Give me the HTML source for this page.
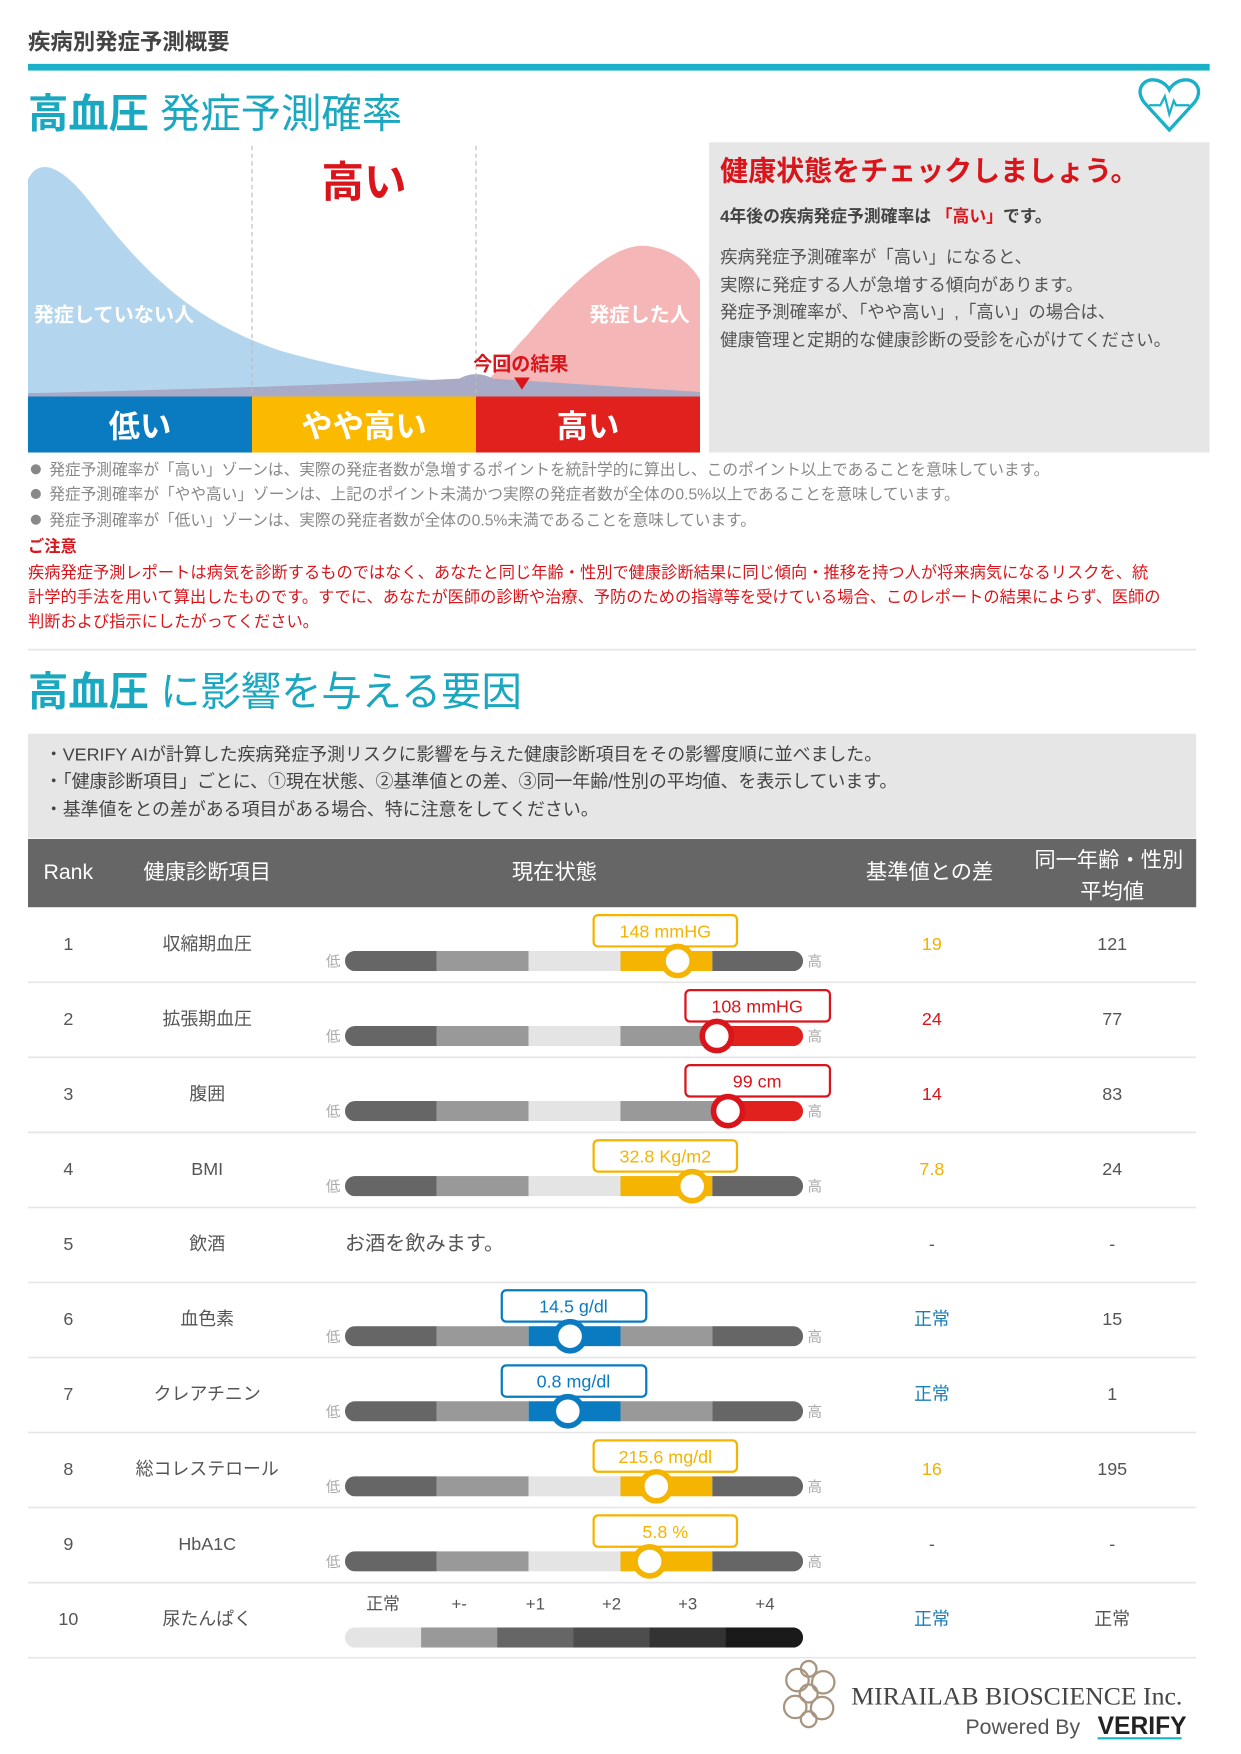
<!DOCTYPE html>
<html><head><meta charset="utf-8"><style>
html,body{margin:0;padding:0;background:#fff;}
#wrap{width:1241px;height:1754px;overflow:hidden;position:relative;}
svg{position:absolute;left:0;top:0;}
text{font-family:"Liberation Sans","Noto Sans CJK JP",sans-serif;}
</style></head><body><div id="wrap">
<svg width="1241" height="1754" viewBox="0 0 1108 1566" xmlns="http://www.w3.org/2000/svg">
<defs>
<clipPath id="bc"><rect x="308" y="0" width="409" height="18" rx="9"/></clipPath>
</defs>
<text x="25" y="44" font-size="20" font-weight="bold" fill="#444">疾病別発症予測概要</text>
<rect x="25" y="57" width="1055" height="6" fill="#1ab0c8"/>
<text x="25" y="114" font-size="36" fill="#1aa7c0"><tspan font-weight="bold">高血圧</tspan> 発症予測確率</text>
<path d="M1044,116 L1022,92 C1012,80 1022,68 1034,72 C1040,74 1043,78 1044,80 C1045,78 1048,74 1054,72 C1066,68 1076,80 1066,92 Z" fill="none" stroke="#1ab0c8" stroke-width="3"/>
<path d="M1026,94 L1036,94 L1040,86 L1044,102 L1048,90 L1050,94 L1062,94" fill="none" stroke="#1ab0c8" stroke-width="2"/>
<path d="M25,354 L25,160 C35,140 55,148 80,180 C120,232 165,285 250,313 C330,336 390,340 440,344 L625,350 L625,354 Z" fill="#b3d6ee"/>
<path d="M418,354 C440,340 450,320 470,300 C520,240 555,215 580,220 C605,224 620,240 625,250 L625,354 Z" fill="#f4b6b6"/>
<path d="M25,354 L25,351 Q250,346 410,338 Q425,330 440,338 L625,350 L625,354 Z" fill="#a9abc6"/>
<line x1="225" y1="130" x2="225" y2="354" stroke="#bbb" stroke-dasharray="4,3"/>
<line x1="425" y1="130" x2="425" y2="354" stroke="#bbb" stroke-dasharray="4,3"/>
<text x="325" y="176" font-size="38" font-weight="bold" fill="#d9151b" text-anchor="middle">高い</text>
<text x="30" y="287" font-size="18" font-weight="bold" fill="#fff">発症していない人</text>
<text x="616" y="287" font-size="18" font-weight="bold" fill="#fff" text-anchor="end">発症した人</text>
<text x="465" y="331" font-size="17" font-weight="bold" fill="#d9151b" text-anchor="middle">今回の結果</text>
<path d="M459,337 L473,337 L466,348 Z" fill="#d9151b"/>
<rect x="25" y="354" width="200" height="50" fill="#0a7bc0"/>
<rect x="225" y="354" width="200" height="50" fill="#fbb900"/>
<rect x="425" y="354" width="200" height="50" fill="#e0211d"/>
<text x="125" y="390" font-size="28" font-weight="bold" fill="#fff" text-anchor="middle">低い</text>
<text x="325" y="390" font-size="28" font-weight="bold" fill="#fff" text-anchor="middle">やや高い</text>
<text x="525" y="390" font-size="28" font-weight="bold" fill="#fff" text-anchor="middle">高い</text>
<rect x="633" y="127" width="447" height="277" fill="#e6e6e6"/>
<text x="643" y="161" font-size="25" font-weight="bold" fill="#d9151b">健康状態をチェックしましょう。</text>
<text x="643" y="198" font-size="15" font-weight="bold" fill="#444">4年後の疾病発症予測確率は <tspan fill="#d9151b">「高い」</tspan>です。</text>
<g font-size="15.5" fill="#555">
<text x="643" y="235">疾病発症予測確率が「高い」になると、</text>
<text x="643" y="260">実際に発症する人が急増する傾向があります。</text>
<text x="643" y="284">発症予測確率が、「やや高い」,「高い」の場合は、</text>
<text x="643" y="309">健康管理と定期的な健康診断の受診を心がけてください。</text>
</g>
<g font-size="14" fill="#888">
<circle cx="32" cy="419" r="4.5" fill="#888"/><text x="44" y="424">発症予測確率が「高い」ゾーンは、実際の発症者数が急増するポイントを統計学的に算出し、このポイント以上であることを意味しています。</text>
<circle cx="32" cy="441" r="4.5" fill="#888"/><text x="44" y="446">発症予測確率が「やや高い」ゾーンは、上記のポイント未満かつ実際の発症者数が全体の0.5%以上であることを意味しています。</text>
<circle cx="32" cy="464" r="4.5" fill="#888"/><text x="44" y="469">発症予測確率が「低い」ゾーンは、実際の発症者数が全体の0.5%未満であることを意味しています。</text>
</g>
<text x="25" y="493" font-size="14.5" font-weight="bold" fill="#d9151b">ご注意</text>
<g font-size="14.5" fill="#d9151b">
<text x="25" y="516">疾病発症予測レポートは病気を診断するものではなく、あなたと同じ年齢・性別で健康診断結果に同じ傾向・推移を持つ人が将来病気になるリスクを、統</text>
<text x="25" y="538">計学的手法を用いて算出したものです。すでに、あなたが医師の診断や治療、予防のための指導等を受けている場合、このレポートの結果によらず、医師の</text>
<text x="25" y="560">判断および指示にしたがってください。</text>
</g>
<line x1="25" y1="580" x2="1068" y2="580" stroke="#e6e6e6" stroke-width="1.5"/>
<text x="25" y="630" font-size="36" fill="#1aa7c0"><tspan font-weight="bold">高血圧</tspan> に影響を与える要因</text>
<rect x="25" y="655" width="1043" height="93" fill="#e6e6e6"/>
<g font-size="16" fill="#444">
<text x="40" y="679">・VERIFY AIが計算した疾病発症予測リスクに影響を与えた健康診断項目をその影響度順に並べました。</text>
<text x="40" y="703">・「健康診断項目」ごとに、①現在状態、②基準値との差、③同一年齢/性別の平均値、を表示しています。</text>
<text x="40" y="728">・基準値をとの差がある項目がある場合、特に注意をしてください。</text>
</g>
<rect x="25" y="749" width="1043" height="61" fill="#666"/>
<g font-size="19" fill="#fff" text-anchor="middle">
<text x="61" y="785">Rank</text><text x="185" y="785">健康診断項目</text><text x="495" y="785">現在状態</text><text x="830" y="785">基準値との差</text>
<text x="990" y="774">同一年齢・性別</text><text x="993" y="802">平均値</text>
</g>
<g stroke="#e6e6e6" stroke-width="1.5">
<line x1="25" y1="877" x2="1068" y2="877"/><line x1="25" y1="944" x2="1068" y2="944"/><line x1="25" y1="1011" x2="1068" y2="1011"/><line x1="25" y1="1078" x2="1068" y2="1078"/><line x1="25" y1="1145" x2="1068" y2="1145"/><line x1="25" y1="1212" x2="1068" y2="1212"/><line x1="25" y1="1279" x2="1068" y2="1279"/><line x1="25" y1="1346" x2="1068" y2="1346"/><line x1="25" y1="1413" x2="1068" y2="1413"/><line x1="25" y1="1480" x2="1068" y2="1480"/>
</g>
<g font-size="16" fill="#555" text-anchor="middle">
<text x="61" y="848">1</text><text x="185" y="848">収縮期血圧</text><text x="832" y="848" fill="#f0b000">19</text><text x="993" y="848">121</text>
<text x="61" y="915">2</text><text x="185" y="915">拡張期血圧</text><text x="832" y="915" fill="#d9151b">24</text><text x="993" y="915">77</text>
<text x="61" y="982">3</text><text x="185" y="982">腹囲</text><text x="832" y="982" fill="#d9151b">14</text><text x="993" y="982">83</text>
<text x="61" y="1049">4</text><text x="185" y="1049">BMI</text><text x="832" y="1049" fill="#f0b000">7.8</text><text x="993" y="1049">24</text>
<text x="61" y="1116">5</text><text x="185" y="1116">飲酒</text><text x="832" y="1116">-</text><text x="993" y="1116">-</text>
<text x="61" y="1183">6</text><text x="185" y="1183">血色素</text><text x="832" y="1183" fill="#1a7fb8">正常</text><text x="993" y="1183">15</text>
<text x="61" y="1250">7</text><text x="185" y="1250">クレアチニン</text><text x="832" y="1250" fill="#1a7fb8">正常</text><text x="993" y="1250">1</text>
<text x="61" y="1317">8</text><text x="185" y="1317">総コレステロール</text><text x="832" y="1317" fill="#f0b000">16</text><text x="993" y="1317">195</text>
<text x="61" y="1384">9</text><text x="185" y="1384">HbA1C</text><text x="832" y="1384">-</text><text x="993" y="1384">-</text>
<text x="61" y="1451">10</text><text x="185" y="1451">尿たんぱく</text><text x="832" y="1451" fill="#1a7fb8">正常</text><text x="993" y="1451">正常</text>
</g>
<text x="308" y="1116" font-size="18" fill="#555">お酒を飲みます。</text>

<g transform="translate(0,849)"><g clip-path="url(#bc)"><rect x="308" width="82" height="18" fill="#666"/><rect x="390" width="82" height="18" fill="#999"/><rect x="472" width="82" height="18" fill="#e4e4e4"/><rect x="554" width="82" height="18" fill="#f5b400"/><rect x="636" width="81" height="18" fill="#666"/></g>
<text x="291" y="14" font-size="13" fill="#aaa">低</text><text x="721" y="14" font-size="13" fill="#aaa">高</text>
<rect x="530" y="-32" width="128" height="28" rx="4" fill="#fff" stroke="#f5b400" stroke-width="2"/><text x="594" y="-12" font-size="16" fill="#f5b400" text-anchor="middle">148 mmHG</text>
<circle cx="605" cy="9" r="13" fill="#fff" stroke="#f5b400" stroke-width="5"/></g>
<g transform="translate(0,916)"><g clip-path="url(#bc)"><rect x="308" width="82" height="18" fill="#666"/><rect x="390" width="82" height="18" fill="#999"/><rect x="472" width="82" height="18" fill="#e4e4e4"/><rect x="554" width="86" height="18" fill="#999"/><rect x="640" width="77" height="18" fill="#e0211d"/></g>
<text x="291" y="14" font-size="13" fill="#aaa">低</text><text x="721" y="14" font-size="13" fill="#aaa">高</text>
<rect x="612" y="-32" width="129" height="28" rx="4" fill="#fff" stroke="#d9151b" stroke-width="2"/><text x="676" y="-12" font-size="16" fill="#d9151b" text-anchor="middle">108 mmHG</text>
<circle cx="640" cy="9" r="13" fill="#fff" stroke="#d9151b" stroke-width="5"/></g>
<g transform="translate(0,983)"><g clip-path="url(#bc)"><rect x="308" width="82" height="18" fill="#666"/><rect x="390" width="82" height="18" fill="#999"/><rect x="472" width="82" height="18" fill="#e4e4e4"/><rect x="554" width="96" height="18" fill="#999"/><rect x="650" width="67" height="18" fill="#e0211d"/></g>
<text x="291" y="14" font-size="13" fill="#aaa">低</text><text x="721" y="14" font-size="13" fill="#aaa">高</text>
<rect x="612" y="-32" width="129" height="28" rx="4" fill="#fff" stroke="#d9151b" stroke-width="2"/><text x="676" y="-12" font-size="16" fill="#d9151b" text-anchor="middle">99 cm</text>
<circle cx="650" cy="9" r="13" fill="#fff" stroke="#d9151b" stroke-width="5"/></g>
<g transform="translate(0,1050)"><g clip-path="url(#bc)"><rect x="308" width="82" height="18" fill="#666"/><rect x="390" width="82" height="18" fill="#999"/><rect x="472" width="82" height="18" fill="#e4e4e4"/><rect x="554" width="82" height="18" fill="#f5b400"/><rect x="636" width="81" height="18" fill="#666"/></g>
<text x="291" y="14" font-size="13" fill="#aaa">低</text><text x="721" y="14" font-size="13" fill="#aaa">高</text>
<rect x="530" y="-32" width="128" height="28" rx="4" fill="#fff" stroke="#f5b400" stroke-width="2"/><text x="594" y="-12" font-size="16" fill="#f5b400" text-anchor="middle">32.8 Kg/m2</text>
<circle cx="618" cy="9" r="13" fill="#fff" stroke="#f5b400" stroke-width="5"/></g>
<g transform="translate(0,1184)"><g clip-path="url(#bc)"><rect x="308" width="82" height="18" fill="#666"/><rect x="390" width="82" height="18" fill="#999"/><rect x="472" width="82" height="18" fill="#0a7bc0"/><rect x="554" width="82" height="18" fill="#999"/><rect x="636" width="81" height="18" fill="#666"/></g>
<text x="291" y="14" font-size="13" fill="#aaa">低</text><text x="721" y="14" font-size="13" fill="#aaa">高</text>
<rect x="448" y="-32" width="129" height="28" rx="4" fill="#fff" stroke="#0a7bc0" stroke-width="2"/><text x="512" y="-12" font-size="16" fill="#0a7bc0" text-anchor="middle">14.5 g/dl</text>
<circle cx="509" cy="9" r="13" fill="#fff" stroke="#0a7bc0" stroke-width="5"/></g>
<g transform="translate(0,1251)"><g clip-path="url(#bc)"><rect x="308" width="82" height="18" fill="#666"/><rect x="390" width="82" height="18" fill="#999"/><rect x="472" width="82" height="18" fill="#0a7bc0"/><rect x="554" width="82" height="18" fill="#999"/><rect x="636" width="81" height="18" fill="#666"/></g>
<text x="291" y="14" font-size="13" fill="#aaa">低</text><text x="721" y="14" font-size="13" fill="#aaa">高</text>
<rect x="448" y="-32" width="129" height="28" rx="4" fill="#fff" stroke="#0a7bc0" stroke-width="2"/><text x="512" y="-12" font-size="16" fill="#0a7bc0" text-anchor="middle">0.8 mg/dl</text>
<circle cx="507" cy="9" r="13" fill="#fff" stroke="#0a7bc0" stroke-width="5"/></g>
<g transform="translate(0,1318)"><g clip-path="url(#bc)"><rect x="308" width="82" height="18" fill="#666"/><rect x="390" width="82" height="18" fill="#999"/><rect x="472" width="82" height="18" fill="#e4e4e4"/><rect x="554" width="82" height="18" fill="#f5b400"/><rect x="636" width="81" height="18" fill="#666"/></g>
<text x="291" y="14" font-size="13" fill="#aaa">低</text><text x="721" y="14" font-size="13" fill="#aaa">高</text>
<rect x="530" y="-32" width="128" height="28" rx="4" fill="#fff" stroke="#f5b400" stroke-width="2"/><text x="594" y="-12" font-size="16" fill="#f5b400" text-anchor="middle">215.6 mg/dl</text>
<circle cx="586" cy="9" r="13" fill="#fff" stroke="#f5b400" stroke-width="5"/></g>
<g transform="translate(0,1385)"><g clip-path="url(#bc)"><rect x="308" width="82" height="18" fill="#666"/><rect x="390" width="82" height="18" fill="#999"/><rect x="472" width="82" height="18" fill="#e4e4e4"/><rect x="554" width="82" height="18" fill="#f5b400"/><rect x="636" width="81" height="18" fill="#666"/></g>
<text x="291" y="14" font-size="13" fill="#aaa">低</text><text x="721" y="14" font-size="13" fill="#aaa">高</text>
<rect x="530" y="-32" width="128" height="28" rx="4" fill="#fff" stroke="#f5b400" stroke-width="2"/><text x="594" y="-12" font-size="16" fill="#f5b400" text-anchor="middle">5.8 %</text>
<circle cx="580" cy="9" r="13" fill="#fff" stroke="#f5b400" stroke-width="5"/></g>
<g transform="translate(0,1453)"><g clip-path="url(#bc)"><rect x="308" width="69" height="18" fill="#e4e4e4"/><rect x="376" width="69" height="18" fill="#999"/><rect x="444" width="69" height="18" fill="#666"/><rect x="512" width="69" height="18" fill="#4d4d4d"/><rect x="580" width="69" height="18" fill="#333"/><rect x="648" width="69" height="18" fill="#1a1a1a"/></g></g>
<g font-size="15" fill="#555" text-anchor="middle">
<text x="342" y="1437">正常</text><text x="410" y="1437">+-</text><text x="478" y="1437">+1</text><text x="546" y="1437">+2</text><text x="614" y="1437">+3</text><text x="683" y="1437">+4</text>
</g>
<g fill="none" stroke="#a89580" stroke-width="2">
<circle cx="722" cy="1512" r="8"/><circle cx="712" cy="1500" r="10"/><circle cx="735" cy="1502" r="10"/><circle cx="710" cy="1524" r="10"/><circle cx="734" cy="1525" r="10"/><circle cx="722" cy="1490" r="7"/><circle cx="722" cy="1535" r="7"/>
</g>
<text x="760" y="1522" font-size="23" fill="#444" style="font-family:'Liberation Serif',serif">MIRAILAB BIOSCIENCE Inc.</text>
<text x="862" y="1548" font-size="19" fill="#555">Powered By</text>
<text x="980" y="1548" font-size="22" font-weight="bold" fill="#222">VERIFY</text>
<line x1="980" y1="1552" x2="1055" y2="1552" stroke="#1ab0c8" stroke-width="2"/>
</svg>
</div></body></html>
